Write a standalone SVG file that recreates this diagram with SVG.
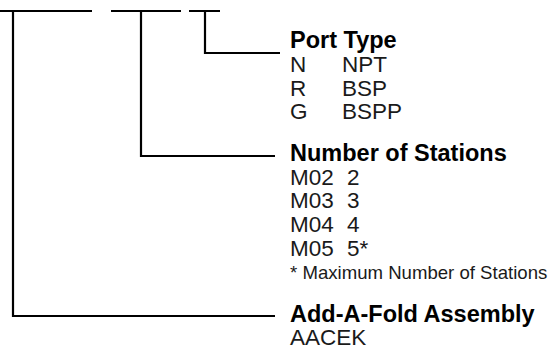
<svg xmlns="http://www.w3.org/2000/svg" width="551" height="349" viewBox="0 0 551 349">
<style>
.ln{stroke:#000;stroke-width:2.2;fill:none}
.h{font-family:"Liberation Sans",Arial,sans-serif;font-weight:bold;font-size:23.5px;fill:#000}
.t{font-family:"Liberation Sans",Arial,sans-serif;font-size:22.5px;fill:#1a1a1a}
.f{font-family:"Liberation Sans",Arial,sans-serif;font-size:18.6px;fill:#1a1a1a}
</style>
<rect width="551" height="349" fill="#fff"/>
<g id="connectors">
<path class="ln" d="M0 11H92M111 11H181M189 11H220"/>
<path class="ln" d="M205 11V53H280"/>
<path class="ln" d="M141 11V156H275"/>
<path class="ln" d="M13 11V316H275"/>
</g>
<g id="port-type">
<text class="h" x="290" y="48">Port Type</text>
<text class="t" x="290" y="72">N</text><text class="t" x="342" y="72">NPT</text>
<text class="t" x="290" y="96">R</text><text class="t" x="342" y="96">BSP</text>
<text class="t" x="290" y="119">G</text><text class="t" x="342" y="119">BSPP</text>
</g>
<g id="number-of-stations">
<text class="h" x="290" y="161">Number of Stations</text>
<text class="t" x="290" y="185">M02</text><text class="t" x="347" y="185">2</text>
<text class="t" x="290" y="208">M03</text><text class="t" x="347" y="208">3</text>
<text class="t" x="290" y="232">M04</text><text class="t" x="347" y="232">4</text>
<text class="t" x="290" y="256">M05</text><text class="t" x="347" y="256">5*</text>
<text class="f" x="290" y="279">* Maximum Number of Stations</text>
</g>
<g id="assembly">
<text class="h" x="290" y="322">Add-A-Fold Assembly</text>
<text class="t" x="290" y="345">AACEK</text>
</g>
</svg>
